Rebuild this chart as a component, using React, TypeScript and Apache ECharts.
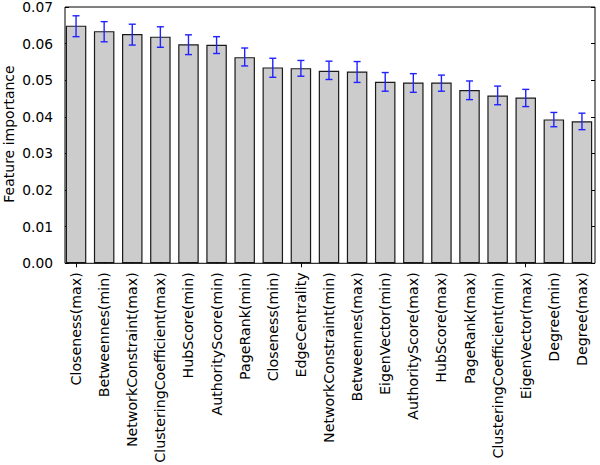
import React, { useEffect, useRef } from "react";
import * as echarts from "echarts";

const categories = [
  "Closeness(max)",
  "Betweennes(min)",
  "NetworkConstraint(max)",
  "ClusteringCoefficient(max)",
  "HubScore(min)",
  "AuthorityScore(min)",
  "PageRank(min)",
  "Closeness(min)",
  "EdgeCentrality",
  "NetworkConstraint(min)",
  "Betweennes(max)",
  "EigenVector(min)",
  "AuthorityScore(max)",
  "HubScore(max)",
  "PageRank(max)",
  "ClusteringCoefficient(min)",
  "EigenVector(max)",
  "Degree(min)",
  "Degree(max)",
];

const importance = [
  0.0649, 0.0634, 0.0626, 0.0619, 0.0598, 0.0597, 0.0563, 0.0535, 0.0533,
  0.0526, 0.0524, 0.0496, 0.0494, 0.0494, 0.0473, 0.0458, 0.0453, 0.0393,
  0.0388,
];

const errLow = [
  0.0619, 0.0605, 0.0596, 0.059, 0.057, 0.0573, 0.0539, 0.0508, 0.0511,
  0.0502, 0.0494, 0.047, 0.0467, 0.047, 0.0447, 0.0433, 0.0428, 0.0373,
  0.0365,
];

const errHigh = [
  0.0676, 0.066, 0.0653, 0.0646, 0.0624, 0.0619, 0.0588, 0.056, 0.0554,
  0.0552, 0.0551, 0.0521, 0.0518, 0.0514, 0.0498, 0.0484, 0.0475, 0.0412,
  0.041,
];

const yTicks = { min: 0, max: 0.07, interval: 0.01 };
const yTitle = "Feature importance";

const FONT = "DejaVu Sans";

export default function App() {
  const ref = useRef<HTMLDivElement>(null);

  useEffect(() => {
    if (!ref.current) return;
    const chart = echarts.init(ref.current, undefined, { renderer: "svg" });

    const errData = categories.map((_, i) => [i, errLow[i], errHigh[i]]);

    const option: any = {
      animation: false,
      backgroundColor: "#ffffff",
      textStyle: { fontFamily: FONT },
      grid: {
        left: 62,
        top: 7,
        width: 534,
        height: 256.3,
        containLabel: false,
        outerBoundsMode: "none",
      },
      xAxis: [
        {
          type: "category",
          data: categories,
          position: "bottom",
          axisLine: { show: false },
          axisTick: {
            show: true,
            alignWithLabel: true,
            inside: true,
            length: 4,
            lineStyle: { color: "#000", width: 1 },
          },
          axisLabel: {
            rotate: 90,
            interval: 0,
            margin: 9,
            color: "#000",
            fontFamily: FONT,
            fontSize: 14.2,
          },
          splitLine: { show: false },
        },
        {
          type: "category",
          data: categories,
          position: "top",
          axisLine: { show: false },
          axisTick: {
            show: true,
            alignWithLabel: true,
            inside: true,
            length: 4,
            lineStyle: { color: "#000", width: 1 },
          },
          axisLabel: { show: false },
          splitLine: { show: false },
        },
      ],
      yAxis: [
        {
          type: "value",
          min: yTicks.min,
          max: yTicks.max,
          interval: yTicks.interval,
          position: "left",
          offset: -3,
          axisLine: { show: false },
          axisTick: {
            show: true,
            inside: true,
            length: 4,
            lineStyle: { color: "#000", width: 1 },
          },
          axisLabel: {
            color: "#000",
            fontFamily: FONT,
            fontSize: 13.8,
            margin: 12,
            formatter: (v: number) => v.toFixed(2),
          },
          splitLine: { show: false },
        },
        {
          type: "value",
          min: yTicks.min,
          max: yTicks.max,
          interval: yTicks.interval,
          position: "right",
          offset: -1,
          axisLine: { show: false },
          axisTick: {
            show: true,
            inside: true,
            length: 4,
            lineStyle: { color: "#000", width: 1 },
          },
          axisLabel: { show: false },
          splitLine: { show: false },
        },
      ],
      series: [
        {
          type: "bar",
          data: importance,
          barWidth: 20.5,
          itemStyle: { color: "#cccccc", borderColor: "#1a1a1a", borderWidth: 1.2 },
          z: 2,
        },
        {
          type: "custom",
          data: errData,
          encode: { x: 0, y: [1, 2] },
          z: 5,
          renderItem: (params: any, api: any) => {
            const idx = api.value(0);
            const lo = api.coord([idx, api.value(1)]);
            const hi = api.coord([idx, api.value(2)]);
            const cap = 3.5;
            const style = { stroke: "#2222ff", lineWidth: 1.4, fill: "none" };
            return {
              type: "group",
              children: [
                { type: "line", shape: { x1: hi[0], y1: hi[1], x2: lo[0], y2: lo[1] }, style },
                { type: "line", shape: { x1: hi[0] - cap, y1: hi[1], x2: hi[0] + cap, y2: hi[1] }, style },
                { type: "line", shape: { x1: lo[0] - cap, y1: lo[1], x2: lo[0] + cap, y2: lo[1] }, style },
              ],
            };
          },
        },
      ],
      graphic: [
        {
          type: "rect",
          shape: { x: 65, y: 7, width: 530, height: 256.3 },
          style: { fill: "none", stroke: "#000", lineWidth: 1 },
          z: 100,
          silent: true,
        },
        {
          type: "text",
          x: 8.5,
          y: 134,
          rotation: Math.PI / 2,
          style: {
            text: yTitle,
            fill: "#000",
            font: `14px '${FONT}'`,
            textAlign: "center",
            textVerticalAlign: "middle",
          },
          silent: true,
        },
      ],
    };

    chart.setOption(option);
    return () => chart.dispose();
  }, []);

  return <div ref={ref} style={{ width: 600, height: 465, position: "absolute", left: 0, top: 0 }} />;
}
